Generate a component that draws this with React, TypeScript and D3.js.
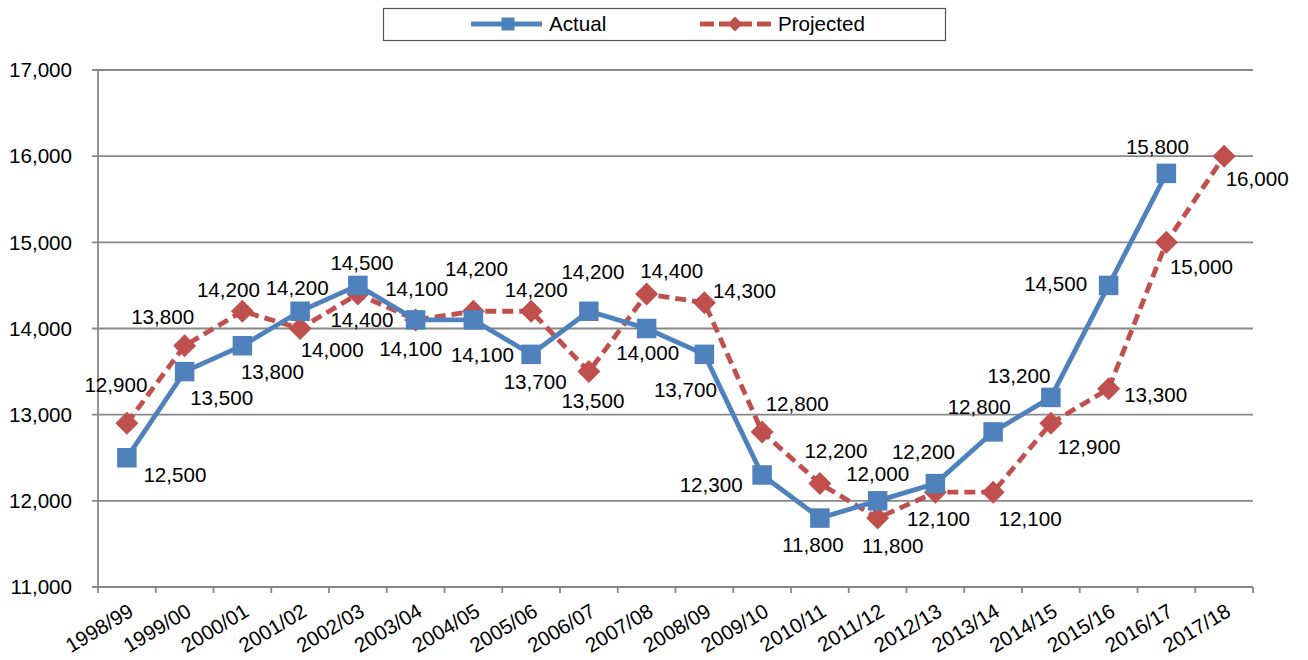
import React from "react";
import * as d3 from "d3";

const categories = [
  "1998/99", "1999/00", "2000/01", "2001/02", "2002/03", "2003/04", "2004/05",
  "2005/06", "2006/07", "2007/08", "2008/09", "2009/10", "2010/11", "2011/12",
  "2012/13", "2013/14", "2014/15", "2015/16", "2016/17", "2017/18",
];
const actual: (number | null)[] = [
  12500, 13500, 13800, 14200, 14500, 14100, 14100, 13700, 14200, 14000,
  13700, 12300, 11800, 12000, 12200, 12800, 13200, 14500, 15800, null,
];
const projected: number[] = [
  12900, 13800, 14200, 14000, 14400, 14100, 14200, 14200, 13500, 14400,
  14300, 12800, 12200, 11800, 12100, 12100, 12900, 13300, 15000, 16000,
];
const yTicks = [11000, 12000, 13000, 14000, 15000, 16000, 17000];
const seriesNames = ["Actual", "Projected"];

// label placement offsets (layout, px)
const actualLabelOffsets: [number, number][] = [
  [48, 17], [37, 26], [30, 26], [-3, -23], [4, -23], [1, -31], [9, 35], [4, 27],
  [4, -39], [1, 24], [-19, 35], [-51, 10], [-7, 27], [0, -27], [-12, -32],
  [-14, -25], [-32, -22], [-53, -2], [-9, -27], [0, 0],
];
const projectedLabelOffsets: [number, number][] = [
  [-11, -38], [-22, -29], [-14, -21], [32, 21], [4, 26], [-5, 29], [3, -42],
  [5, -21], [4, 29], [25, -23], [40, -12], [35, -28], [16, -33], [15, 28],
  [3, 27], [37, 27], [38, 24], [47, 6], [35, 24], [33, 23],
];

const BLUE = "#4F81BD";
const RED = "#C0504D";
const GRID = "#888888";
const FONT = "'Liberation Sans', Arial, sans-serif";
const FS = 20.6;

export default function App() {
  const W = 1308, H = 660;
  const left = 98, right = 1253, top = 70, bottom = 587;
  const x = d3.scaleBand<string>().domain(categories).range([left, right]);
  const y = d3.scaleLinear().domain([11000, 17000]).range([bottom, top]);
  const cx = (c: string) => (x(c) as number) + x.bandwidth() / 2;
  const fmt = d3.format(",");

  const line = d3
    .line<number | null>()
    .defined((d) => d != null)
    .x((_, i) => cx(categories[i]))
    .y((d) => y(d as number));

  const sq = 19.5, dm = 11.5;
  const diamond = (px: number, py: number, r: number) =>
    `M${px},${py - r}L${px + r},${py}L${px},${py + r}L${px - r},${py}Z`;

  const boundaries = categories.map((c) => x(c) as number).concat([right]);

  return (
    <svg
      width={W}
      height={H}
      style={{ position: "absolute", left: 0, top: 0, background: "#fff" }}
      fontFamily={FONT}
    >
      {/* gridlines */}
      {yTicks.map((t) => (
        <g key={t}>
          <line x1={left - 6} x2={right} y1={y(t)} y2={y(t)} stroke={GRID} strokeWidth={1.8} />
          <text x={72} y={y(t)} dy="0.35em" textAnchor="end" fontSize={FS} fill="#000">
            {fmt(t)}
          </text>
        </g>
      ))}
      {/* y axis */}
      <line x1={left} x2={left} y1={top} y2={bottom} stroke={GRID} strokeWidth={1.8} />
      {/* x ticks */}
      {boundaries.map((b, i) => (
        <line key={i} x1={b} x2={b} y1={bottom} y2={bottom + 6} stroke={GRID} strokeWidth={1.8} />
      ))}
      {categories.map((c) => (
        <text
          key={c}
          transform={`translate(${cx(c) + 8},${615}) rotate(-31)`}
          textAnchor="end"
          fontSize={FS}
          fill="#000"
        >
          {c}
        </text>
      ))}

      {/* projected */}
      <path
        d={line(projected) || ""}
        fill="none"
        stroke={RED}
        strokeWidth={4.8}
        strokeDasharray="11,6"
      />
      {projected.map((v, i) => (
        <path key={i} d={diamond(cx(categories[i]), y(v), dm)} fill={RED} />
      ))}

      {/* actual */}
      <path d={line(actual) || ""} fill="none" stroke={BLUE} strokeWidth={4.8} />
      {actual.map((v, i) =>
        v == null ? null : (
          <rect
            key={i}
            x={cx(categories[i]) - sq / 2}
            y={y(v) - sq / 2}
            width={sq}
            height={sq}
            fill={BLUE}
          />
        )
      )}

      {/* labels */}
      {actual.map((v, i) =>
        v == null ? null : (
          <text
            key={"a" + i}
            x={cx(categories[i]) + actualLabelOffsets[i][0]}
            y={y(v) + actualLabelOffsets[i][1]}
            dy="0.35em"
            textAnchor="middle"
            fontSize={FS}
            fill="#000"
          >
            {fmt(v)}
          </text>
        )
      )}
      {projected.map((v, i) => (
        <text
          key={"p" + i}
          x={cx(categories[i]) + projectedLabelOffsets[i][0]}
          y={y(v) + projectedLabelOffsets[i][1]}
          dy="0.35em"
          textAnchor="middle"
          fontSize={FS}
          fill="#000"
        >
          {fmt(v)}
        </text>
      ))}

      {/* legend */}
      <rect x={383.5} y={8.5} width={562} height={32} fill="#fff" stroke="#555" strokeWidth={1.2} />
      <line x1={471} x2={542} y1={24} y2={24} stroke={BLUE} strokeWidth={4.8} />
      <rect x={508 - 6.5} y={24 - 6.5} width={13} height={13} fill={BLUE} />
      <text x={549} y={24} dy="0.35em" fontSize={FS} fill="#000">
        {seriesNames[0]}
      </text>
      <line x1={700} x2={771} y1={24} y2={24} stroke={RED} strokeWidth={4.8} strokeDasharray="14,5" />
      <path d={diamond(735, 24, 7.5)} fill={RED} />
      <text x={778} y={24} dy="0.35em" fontSize={FS} fill="#000">
        {seriesNames[1]}
      </text>
    </svg>
  );
}
